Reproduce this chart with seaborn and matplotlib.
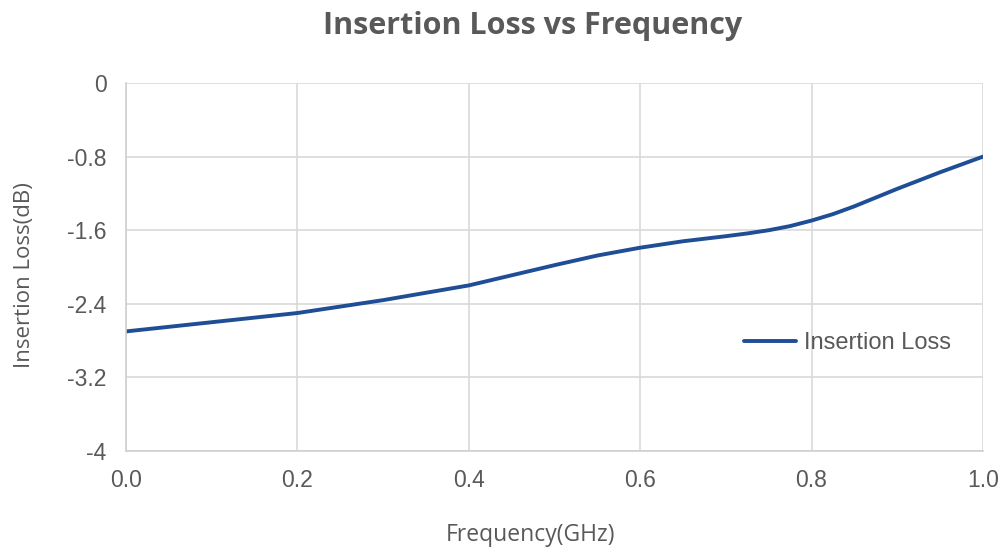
import matplotlib
matplotlib.use("Agg")
import matplotlib.pyplot as plt
import seaborn as sns
import pandas as pd

freq_ghz = [0.0, 0.05, 0.1, 0.15, 0.2, 0.25, 0.3, 0.35, 0.4, 0.45, 0.5,
            0.55, 0.6, 0.65, 0.7, 0.725, 0.75, 0.775, 0.8, 0.825, 0.85, 0.875,
            0.9, 0.925, 0.95, 0.975, 1.0]
insertion_loss_db = [-2.70, -2.65, -2.60, -2.55, -2.50, -2.43, -2.36, -2.28, -2.20, -2.09, -1.98,
                     -1.875, -1.79, -1.72, -1.665, -1.635, -1.60, -1.555, -1.495, -1.425, -1.34, -1.245,
                     -1.15, -1.06, -0.97, -0.885, -0.80]
x_ticks = [0.0, 0.2, 0.4, 0.6, 0.8, 1.0]
x_tick_labels = ["0.0", "0.2", "0.4", "0.6", "0.8", "1.0"]
y_ticks = [0, -0.8, -1.6, -2.4, -3.2, -4]
y_tick_labels = ["0", "-0.8", "-1.6", "-2.4", "-3.2", "-4"]

sns.set_theme(style="white")
plt.rcParams['font.family'] = ['Liberation Sans', 'DejaVu Sans']

df = pd.DataFrame({"Frequency": freq_ghz, "Insertion Loss": insertion_loss_db})

fig = plt.figure(figsize=(10.05, 5.5), dpi=100)
ax = fig.add_axes([0.1254, 0.18, 0.978 - 0.1254, 0.849 - 0.18])

sns.lineplot(data=df, x="Frequency", y="Insertion Loss", ax=ax, color="#1F4E96",
             linewidth=2.8, label="Insertion Loss")

ax.set_xlim(0, 1.0)
ax.set_ylim(-4, 0)
ax.set_xticks(x_ticks)
ax.set_xticklabels(x_tick_labels)
ax.set_yticks(y_ticks)
ax.set_yticklabels(y_tick_labels)
ax.tick_params(axis="x", length=0, pad=13, labelsize=16.5, colors="#595959")
ax.tick_params(axis="y", length=0, pad=14, labelsize=16.5, colors="#595959")
ax.grid(True, color="#D9D9D9", linewidth=1.2)
for s in ["top", "right"]:
    ax.spines[s].set_visible(False)
for s in ["left", "bottom"]:
    ax.spines[s].set_color("#D0D0D0")
    ax.spines[s].set_linewidth(1.2)

ax.set_xlabel("Frequency(GHz)", fontsize=16.5, color="#595959",
              family=["Open Sans", "DejaVu Sans"])
ax.xaxis.set_label_coords(0.4726, -0.195)
ax.set_ylabel("Insertion Loss(dB)", fontsize=16, color="#595959",
              family=["Open Sans", "DejaVu Sans"])
ax.yaxis.set_label_coords(-0.106, 0.478)
fig.suptitle("Insertion Loss vs Frequency", x=0.53, y=0.98, fontsize=22,
             fontweight="bold", color="#595959", family=["Open Sans", "DejaVu Sans"])

leg = ax.legend(loc="center", bbox_to_anchor=(0.842, 0.294), frameon=False,
                fontsize=17, handlelength=2.2, handletextpad=0.3)
for t in leg.get_texts():
    t.set_color("#595959")

fig.savefig("out.png", dpi=100)
